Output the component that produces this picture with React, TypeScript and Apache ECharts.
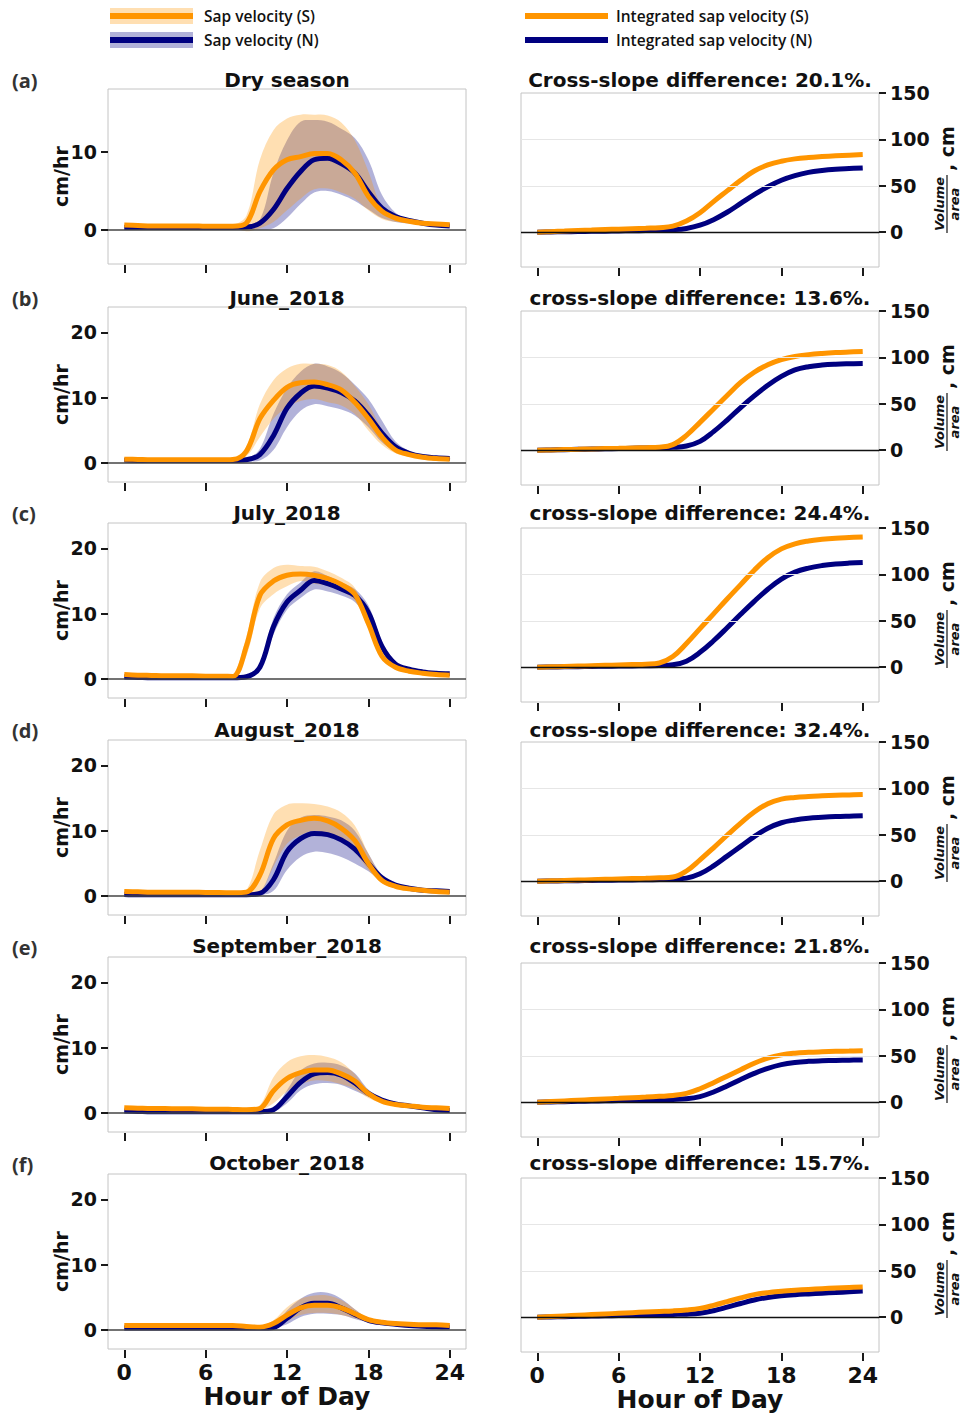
import React, { useEffect, useRef } from "react";
import * as echarts from "echarts";

// ---------------- data ----------------
const HOURS = [0, 1, 2, 3, 4, 5, 6, 7, 8, 9, 10, 11, 12, 13, 14, 15, 16, 17, 18, 19, 20, 21, 22, 23, 24];
const HOUR_TICKS = [0, 6, 12, 18, 24];
const VEL_TICKS_DRY = [0, 10];
const VEL_TICKS = [0, 10, 20];
const VOL_TICKS = [0, 50, 100, 150];
const VOL_GRID = [50, 100];

const PANEL_LETTERS = ["(a)", "(b)", "(c)", "(d)", "(e)", "(f)"];
const LEFT_TITLES = ["Dry season", "June_2018", "July_2018", "August_2018", "September_2018", "October_2018"];
const RIGHT_TITLES = [
  "Cross-slope difference: 20.1%.",
  "cross-slope difference: 13.6%.",
  "cross-slope difference: 24.4%.",
  "cross-slope difference: 32.4%.",
  "cross-slope difference: 21.8%.",
  "cross-slope difference: 15.7%.",
];

// Dry season
const DRY_S = [0.6, 0.55, 0.5, 0.5, 0.5, 0.5, 0.45, 0.45, 0.45, 0.85, 4.9, 7.7, 9.0, 9.4, 9.8, 9.8, 9.0, 7.3, 4.3, 2.4, 1.5, 1.1, 0.85, 0.75, 0.65];
const DRY_S_LO = [0.5, 0.45, 0.4, 0.4, 0.4, 0.4, 0.35, 0.35, 0.3, -0.2, 0.2, 1.0, 2.5, 4.0, 5.2, 5.3, 4.8, 4.0, 2.5, 1.4, 1.0, 0.9, 0.75, 0.65, 0.55];
const DRY_S_HI = [0.7, 0.65, 0.6, 0.6, 0.6, 0.6, 0.55, 0.55, 0.6, 1.8, 9.0, 12.8, 14.3, 14.8, 14.8, 14.7, 13.8, 11.5, 7.5, 3.0, 1.8, 1.3, 1.0, 0.85, 0.75];
const DRY_N = [0.3, 0.3, 0.3, 0.3, 0.3, 0.3, 0.3, 0.3, 0.3, 0.35, 0.85, 2.6, 5.3, 7.5, 9.0, 9.2, 8.5, 7.3, 4.9, 2.8, 1.7, 1.2, 0.85, 0.6, 0.5];
const DRY_N_LO = [0.2, 0.2, 0.2, 0.2, 0.2, 0.2, 0.2, 0.2, 0.2, 0.1, 0.0, 0.2, 1.5, 3.3, 4.8, 5.0, 4.5, 3.7, 2.6, 1.5, 1.0, 0.8, 0.6, 0.45, 0.4];
const DRY_N_HI = [0.4, 0.4, 0.4, 0.4, 0.4, 0.4, 0.4, 0.4, 0.4, 0.5, 1.3, 7.3, 11.5, 13.9, 14.1, 13.9, 13.0, 11.8, 9.0, 4.5, 2.2, 1.3, 1.0, 0.75, 0.6];
const DRY_CUM_S = [0, 0.6, 1.2, 1.8, 2.3, 2.8, 3.3, 3.8, 4.3, 4.9, 6.5, 12, 21, 33, 44.5, 56, 66, 72.5, 76.5, 79, 80.5, 81.5, 82.3, 83, 83.6];
const DRY_CUM_N = [0, 0.2, 0.5, 0.7, 0.9, 1.1, 1.4, 1.6, 1.8, 2.1, 2.6, 4.0, 7.5, 13.5, 21.5, 31, 40.5, 49, 56, 61, 64.5, 66.5, 67.8, 68.6, 69.3];

// June 2018
const JUN_S = [0.6, 0.55, 0.5, 0.5, 0.5, 0.5, 0.5, 0.5, 0.55, 1.8, 6.8, 9.6, 11.6, 12.3, 12.4, 12.0, 11.2, 9.3, 6.8, 4.0, 2.0, 1.3, 0.9, 0.7, 0.6];
const JUN_S_LO = [0.5, 0.45, 0.4, 0.4, 0.4, 0.4, 0.4, 0.4, 0.45, 1.0, 4.0, 6.8, 8.5, 9.5, 9.8, 9.3, 8.8, 7.5, 5.0, 2.8, 1.5, 1.0, 0.7, 0.55, 0.5];
const JUN_S_HI = [0.7, 0.65, 0.6, 0.6, 0.6, 0.6, 0.6, 0.6, 0.65, 2.5, 9.0, 12.7, 14.5, 15.2, 15.2, 15.0, 14.0, 11.8, 9.0, 5.2, 2.8, 1.6, 1.1, 0.9, 0.8];
const JUN_N = [0.45, 0.4, 0.4, 0.4, 0.4, 0.4, 0.4, 0.4, 0.4, 0.5, 1.3, 4.2, 8.4, 10.7, 11.8, 11.5, 10.8, 9.5, 7.3, 4.6, 2.5, 1.5, 1.0, 0.8, 0.7];
const JUN_N_LO = [0.35, 0.3, 0.3, 0.3, 0.3, 0.3, 0.3, 0.3, 0.3, 0.3, 0.4, 2.0, 5.5, 8.0, 9.0, 8.7, 8.2, 7.3, 5.5, 3.2, 1.8, 1.1, 0.8, 0.6, 0.5];
const JUN_N_HI = [0.55, 0.5, 0.5, 0.5, 0.5, 0.5, 0.5, 0.5, 0.5, 0.6, 2.2, 7.5, 11.5, 14.0, 15.2, 14.8, 13.8, 12.0, 9.8, 6.5, 3.3, 1.9, 1.2, 0.9, 0.8];
const JUN_CUM_S = [0, 0.3, 0.7, 1.0, 1.4, 1.7, 2.0, 2.4, 2.7, 3.2, 6, 16, 30, 44.5, 59, 73, 84, 92, 97.5, 101, 103, 104.3, 105.2, 105.8, 106.3];
const JUN_CUM_N = [0, 0.3, 0.6, 0.9, 1.2, 1.5, 1.8, 2.1, 2.4, 2.7, 3.1, 4.5, 9.5, 20, 32.5, 46, 58.5, 70, 79.5, 86.5, 90, 91.8, 92.7, 93.1, 93.3];

// July 2018
const JUL_S = [0.7, 0.6, 0.55, 0.5, 0.5, 0.5, 0.45, 0.45, 0.4, 5.0, 12.8, 15.0, 15.9, 16.1, 15.9, 15.4, 14.5, 13.0, 8.5, 3.5, 1.8, 1.2, 0.9, 0.7, 0.6];
const JUL_S_LO = [0.6, 0.5, 0.45, 0.4, 0.4, 0.4, 0.35, 0.35, 0.3, 3.5, 10.8, 13.0, 14.2, 15.0, 14.6, 14.3, 13.5, 12.0, 7.7, 3.0, 1.6, 1.05, 0.8, 0.6, 0.5];
const JUL_S_HI = [0.8, 0.7, 0.65, 0.6, 0.6, 0.6, 0.55, 0.55, 0.5, 6.5, 14.8, 17.0, 17.5, 17.3, 17.2, 16.5, 15.5, 14.0, 9.3, 4.0, 2.0, 1.35, 1.0, 0.8, 0.7];
const JUL_N = [0.3, 0.25, 0.2, 0.2, 0.2, 0.2, 0.2, 0.2, 0.2, 0.35, 1.8, 8.0, 11.8, 13.6, 15.1, 14.6, 13.8, 12.8, 10.2, 5.0, 2.3, 1.5, 1.1, 0.9, 0.8];
const JUL_N_LO = [0.2, 0.15, 0.1, 0.1, 0.1, 0.1, 0.1, 0.1, 0.1, 0.2, 1.4, 6.8, 10.6, 12.4, 13.7, 13.4, 12.8, 11.8, 9.1, 4.2, 1.9, 1.3, 0.95, 0.8, 0.7];
const JUL_N_HI = [0.4, 0.35, 0.3, 0.3, 0.3, 0.3, 0.3, 0.3, 0.3, 0.5, 2.2, 9.3, 13.0, 14.8, 16.5, 15.8, 14.8, 13.8, 11.3, 5.8, 2.7, 1.7, 1.25, 1.0, 0.9];
const JUL_CUM_S = [0, 0.4, 0.8, 1.2, 1.6, 2.0, 2.4, 2.8, 3.2, 4.5, 11.5, 25.5, 41.5, 57.5, 73.5, 89, 104.5, 118, 127.5, 133, 136, 137.8, 139, 139.7, 140.3];
const JUL_CUM_N = [0, 0.2, 0.4, 0.6, 0.8, 1.0, 1.2, 1.4, 1.6, 1.8, 2.6, 6.5, 16, 28.5, 42.5, 57, 71, 84, 95, 102.5, 106.8, 109.5, 111.2, 112.2, 112.8];

// August 2018
const AUG_S = [0.7, 0.65, 0.6, 0.6, 0.6, 0.6, 0.55, 0.55, 0.5, 0.6, 3.2, 8.8, 10.9, 11.6, 11.9, 11.5, 10.4, 8.5, 5.0, 2.4, 1.5, 1.1, 0.9, 0.7, 0.6];
const AUG_S_LO = [0.6, 0.55, 0.5, 0.5, 0.5, 0.5, 0.45, 0.45, 0.4, 0.4, 0.5, 4.5, 8.0, 9.3, 10.0, 9.5, 8.8, 6.8, 4.0, 2.0, 1.2, 0.9, 0.8, 0.6, 0.5];
const AUG_S_HI = [0.8, 0.75, 0.7, 0.7, 0.7, 0.7, 0.65, 0.65, 0.6, 0.9, 7.0, 12.5, 14.0, 14.2, 14.1, 13.7, 12.8, 10.8, 6.5, 3.0, 1.8, 1.3, 1.0, 0.8, 0.7];
const AUG_N = [0.25, 0.2, 0.2, 0.2, 0.2, 0.2, 0.2, 0.2, 0.2, 0.2, 0.4, 2.5, 6.8, 8.8, 9.6, 9.4, 8.6, 7.2, 5.0, 2.8, 1.7, 1.2, 0.9, 0.8, 0.7];
const AUG_N_LO = [0.15, 0.1, 0.1, 0.1, 0.1, 0.1, 0.1, 0.1, 0.1, 0.1, 0.1, 0.8, 4.0, 6.0, 6.8, 6.6, 6.0, 5.0, 3.8, 2.3, 1.5, 1.0, 0.8, 0.7, 0.6];
const AUG_N_HI = [0.35, 0.3, 0.3, 0.3, 0.3, 0.3, 0.3, 0.3, 0.3, 0.3, 0.6, 5.0, 10.0, 12.0, 12.4, 12.2, 11.6, 10.0, 6.5, 3.2, 1.9, 1.3, 1.0, 0.9, 0.8];
const AUG_CUM_S = [0, 0.4, 0.8, 1.2, 1.6, 2.0, 2.4, 2.8, 3.2, 3.7, 4.5, 11, 23, 36, 49.5, 62.5, 74.5, 83.5, 88.5, 90.3, 91.3, 92, 92.6, 93, 93.3];
const AUG_CUM_N = [0, 0.2, 0.4, 0.6, 0.8, 1.0, 1.2, 1.4, 1.6, 1.8, 2.2, 3.3, 8, 16.5, 27, 37.5, 48, 57, 63, 66, 67.8, 68.8, 69.6, 70.1, 70.5];

// September 2018
const SEP_S = [0.8, 0.75, 0.7, 0.7, 0.65, 0.65, 0.6, 0.6, 0.55, 0.5, 0.7, 3.4, 5.3, 6.2, 6.6, 6.6, 6.0, 4.9, 3.0, 1.8, 1.3, 1.1, 0.9, 0.8, 0.7];
const SEP_S_LO = [0.7, 0.65, 0.6, 0.6, 0.55, 0.55, 0.5, 0.5, 0.45, 0.4, 0.4, 1.5, 3.3, 4.4, 5.0, 4.9, 4.4, 3.7, 2.3, 1.5, 1.1, 0.95, 0.8, 0.7, 0.6];
const SEP_S_HI = [0.9, 0.85, 0.8, 0.8, 0.75, 0.75, 0.7, 0.7, 0.65, 0.6, 1.2, 5.5, 7.8, 8.7, 8.9, 8.6, 7.8, 6.0, 3.4, 2.0, 1.4, 1.2, 1.0, 0.9, 0.8];
const SEP_N = [0.3, 0.25, 0.2, 0.2, 0.2, 0.2, 0.2, 0.2, 0.2, 0.2, 0.2, 0.5, 2.5, 4.7, 6.0, 6.2, 5.8, 4.6, 3.0, 2.0, 1.4, 1.1, 0.8, 0.5, 0.4];
const SEP_N_LO = [0.2, 0.15, 0.1, 0.1, 0.1, 0.1, 0.1, 0.1, 0.1, 0.1, 0.1, 0.2, 1.5, 3.5, 4.4, 4.6, 4.3, 3.4, 2.5, 1.6, 1.2, 0.95, 0.7, 0.4, 0.3];
const SEP_N_HI = [0.4, 0.35, 0.3, 0.3, 0.3, 0.3, 0.3, 0.3, 0.3, 0.3, 0.3, 0.6, 3.5, 6.5, 7.6, 7.7, 7.3, 6.1, 3.6, 2.3, 1.5, 1.2, 0.9, 0.6, 0.5];
const SEP_CUM_S = [0, 0.7, 1.4, 2.1, 2.8, 3.5, 4.2, 4.9, 5.5, 6.3, 7.2, 9.5, 14.5, 21, 28, 35, 42, 47.5, 51, 52.8, 53.7, 54.3, 54.8, 55.1, 55.4];
const SEP_CUM_N = [0, 0.3, 0.6, 0.9, 1.2, 1.5, 1.8, 2.1, 2.4, 2.7, 3.0, 3.6, 6, 11, 17.5, 24.5, 31, 36.5, 40.5, 42.8, 44, 44.6, 45, 45.3, 45.5];

// October 2018
const OCT_S = [0.7, 0.7, 0.7, 0.7, 0.7, 0.7, 0.7, 0.7, 0.7, 0.55, 0.45, 1.0, 2.3, 3.4, 3.8, 3.8, 3.4, 2.5, 1.6, 1.2, 1.0, 0.9, 0.8, 0.8, 0.7];
const OCT_S_LO = [0.6, 0.6, 0.6, 0.6, 0.6, 0.6, 0.6, 0.6, 0.6, 0.45, 0.35, 0.6, 1.4, 2.3, 2.6, 2.6, 2.3, 1.8, 1.2, 1.0, 0.9, 0.8, 0.7, 0.7, 0.6];
const OCT_S_HI = [0.8, 0.8, 0.8, 0.8, 0.8, 0.8, 0.8, 0.8, 0.8, 0.65, 0.55, 1.5, 3.5, 4.8, 5.3, 5.3, 4.6, 3.2, 1.8, 1.35, 1.1, 1.0, 0.9, 0.9, 0.8];
const OCT_N = [0.3, 0.3, 0.3, 0.3, 0.3, 0.3, 0.3, 0.3, 0.3, 0.3, 0.3, 0.4, 1.8, 3.4, 4.1, 4.1, 3.4, 2.4, 1.5, 1.1, 0.9, 0.7, 0.6, 0.5, 0.45];
const OCT_N_LO = [0.2, 0.2, 0.2, 0.2, 0.2, 0.2, 0.2, 0.2, 0.2, 0.2, 0.2, 0.25, 0.9, 2.0, 2.5, 2.5, 2.3, 1.7, 1.2, 0.9, 0.8, 0.6, 0.5, 0.4, 0.35];
const OCT_N_HI = [0.4, 0.4, 0.4, 0.4, 0.4, 0.4, 0.4, 0.4, 0.4, 0.4, 0.4, 0.6, 3.0, 4.8, 5.7, 5.7, 4.8, 3.2, 1.8, 1.3, 1.0, 0.8, 0.7, 0.6, 0.55];
const OCT_CUM_S = [0, 0.7, 1.4, 2.1, 2.8, 3.5, 4.2, 4.9, 5.6, 6.2, 6.8, 7.8, 9.5, 12.8, 16.8, 20.8, 24.3, 26.5, 27.9, 29, 29.9, 30.7, 31.4, 32, 32.5];
const OCT_CUM_N = [0, 0.3, 0.6, 0.9, 1.2, 1.5, 1.8, 2.1, 2.4, 2.7, 3.0, 3.3, 4.3, 7, 10.8, 14.8, 18.5, 21.3, 23, 24.2, 25.1, 25.9, 26.6, 27.4, 28.1];

const LEGEND_LABELS = ["Sap velocity (S)", "Sap velocity (N)", "Integrated sap velocity (S)", "Integrated sap velocity (N)"];

// ---------------- styling / layout ----------------
const S_COLOR = "#FF9500";
const N_COLOR = "#000080";
const S_BAND = "rgba(255,149,0,0.3)";
const N_BAND = "rgba(0,0,128,0.3)";
const FONT = '"DejaVu Sans", sans-serif';
const SMOOTH = 0.35;

const PANELS = [
  { s: DRY_S, sLo: DRY_S_LO, sHi: DRY_S_HI, n: DRY_N, nLo: DRY_N_LO, nHi: DRY_N_HI, cs: DRY_CUM_S, cn: DRY_CUM_N, yMin: -4.4, yMax: 18.1, ticks: VEL_TICKS_DRY },
  { s: JUN_S, sLo: JUN_S_LO, sHi: JUN_S_HI, n: JUN_N, nLo: JUN_N_LO, nHi: JUN_N_HI, cs: JUN_CUM_S, cn: JUN_CUM_N, yMin: -2.9, yMax: 23.9, ticks: VEL_TICKS },
  { s: JUL_S, sLo: JUL_S_LO, sHi: JUL_S_HI, n: JUL_N, nLo: JUL_N_LO, nHi: JUL_N_HI, cs: JUL_CUM_S, cn: JUL_CUM_N, yMin: -2.9, yMax: 23.9, ticks: VEL_TICKS },
  { s: AUG_S, sLo: AUG_S_LO, sHi: AUG_S_HI, n: AUG_N, nLo: AUG_N_LO, nHi: AUG_N_HI, cs: AUG_CUM_S, cn: AUG_CUM_N, yMin: -2.9, yMax: 23.9, ticks: VEL_TICKS },
  { s: SEP_S, sLo: SEP_S_LO, sHi: SEP_S_HI, n: SEP_N, nLo: SEP_N_LO, nHi: SEP_N_HI, cs: SEP_CUM_S, cn: SEP_CUM_N, yMin: -2.9, yMax: 23.9, ticks: VEL_TICKS },
  { s: OCT_S, sLo: OCT_S_LO, sHi: OCT_S_HI, n: OCT_N, nLo: OCT_N_LO, nHi: OCT_N_HI, cs: OCT_CUM_S, cn: OCT_CUM_N, yMin: -2.9, yMax: 23.9, ticks: VEL_TICKS },
];

const LEFT_X = 108;
const RIGHT_X = 521;
const BOX_W = 358;
const LEFT_TOPS = [89, 307, 523, 740, 957, 1174];
const RIGHT_TOPS = [93, 311, 528, 742, 963, 1178];
const LEFT_H = 175;
const RIGHT_H = 174;
const TITLE_Y = [79.5, 297.5, 512.5, 729.5, 946, 1163];

const pairs = (ys: number[]) => HOURS.map((h, k) => [h, ys[k]]);
const bandRows = (lo: number[], hi: number[]) => HOURS.map((h, k) => [h, lo[k], hi[k]]);

function bandSeries(gi: number, lo: number[], hi: number[], color: string, extra: any = {}) {
  return {
    type: "custom",
    xAxisIndex: gi,
    yAxisIndex: gi,
    silent: true,
    animation: false,
    data: bandRows(lo, hi),
    encode: { x: 0, y: [1, 2] },
    renderItem: (params: any, api: any) => {
      if (params.dataIndexInside !== 0) return { type: "group", children: [] };
      const n = params.dataInsideLength;
      const top: number[][] = [];
      const bot: number[][] = [];
      for (let k = 0; k < n; k++) {
        top.push(api.coord([api.value(0, k), api.value(2, k)]));
        bot.push(api.coord([api.value(0, k), api.value(1, k)]));
      }
      return {
        type: "polygon",
        shape: { points: top.concat(bot.reverse()), smooth: SMOOTH },
        style: { fill: color, stroke: "none" },
      };
    },
    ...extra,
  };
}

function buildOption() {
  const grid: any[] = [];
  const xAxis: any[] = [];
  const yAxis: any[] = [];
  const series: any[] = [];
  const graphic: any[] = [];

  PANELS.forEach((p, i) => {
    const last = i === PANELS.length - 1;
    const gl = 2 * i;
    const gr = 2 * i + 1;
    grid.push({ left: LEFT_X, top: LEFT_TOPS[i], width: BOX_W, height: LEFT_H, show: true, borderColor: "#c4c4c4", borderWidth: 1, backgroundColor: "transparent", outerBoundsMode: "none" });
    grid.push({ left: RIGHT_X, top: RIGHT_TOPS[i], width: BOX_W, height: RIGHT_H, show: true, borderColor: "#c4c4c4", borderWidth: 1, backgroundColor: "transparent", outerBoundsMode: "none" });

    [gl, gr].forEach((g) => {
      xAxis.push({
        type: "value",
        gridIndex: g,
        min: -1.2,
        max: 25.2,
        offset: 1,
        axisLine: { show: false, onZero: false },
        splitLine: { show: false },
        axisTick: { show: true, customValues: HOUR_TICKS, length: 8, lineStyle: { color: "#1a1a1a", width: 2 } },
        axisLabel: { show: last, customValues: HOUR_TICKS, margin: 11, fontSize: 22, fontWeight: "bold", fontFamily: FONT, color: "#111" },
        name: last ? "Hour of Day" : "",
        nameLocation: "middle",
        nameGap: 34,
        nameMoveOverlap: false,
        nameTextStyle: { fontSize: 25, fontWeight: "bold", fontFamily: FONT, color: "#111" },
      });
    });

    yAxis.push({
      type: "value",
      gridIndex: gl,
      min: p.yMin,
      max: p.yMax,
      axisLine: { show: false, onZero: false },
      splitLine: { show: false },
      axisTick: { show: true, customValues: p.ticks, length: 7, lineStyle: { color: "#1a1a1a", width: 2 } },
      axisLabel: { customValues: p.ticks, margin: 11, fontSize: 19, fontWeight: "bold", fontFamily: FONT, color: "#111" },
      name: "cm/hr",
      nameLocation: "middle",
      nameGap: 38,
      nameRotate: 90,
      nameMoveOverlap: false,
      nameTextStyle: { fontSize: 19, fontWeight: "bold", fontFamily: FONT, color: "#111" },
    });
    yAxis.push({
      type: "value",
      gridIndex: gr,
      position: "right",
      min: -37.5,
      max: 150,
      axisLine: { show: false, onZero: false },
      splitLine: { show: false },
      axisTick: { show: true, customValues: VOL_TICKS, length: 7, lineStyle: { color: "#1a1a1a", width: 2 } },
      axisLabel: { customValues: VOL_TICKS, margin: 11, fontSize: 19, fontWeight: "bold", fontFamily: FONT, color: "#111" },
    });

    const zeroLine = {
      markLine: { silent: true, symbol: ["none", "none"], label: { show: false }, animation: false, lineStyle: { color: "#444", width: 1.5, type: "solid" }, data: [{ yAxis: 0 }] },
    };
    series.push(bandSeries(gl, p.nLo, p.nHi, N_BAND, { name: "N band", ...zeroLine }));
    series.push(bandSeries(gl, p.sLo, p.sHi, S_BAND, { name: "S band" }));

    const common = { xAxisIndex: gl, yAxisIndex: gl, type: "line", symbol: "none", smooth: SMOOTH, silent: true, animation: false };
    series.push({ ...common, name: "Sap velocity (N)", data: pairs(p.n), lineStyle: { color: N_COLOR, width: 5, cap: "butt" } });
    series.push({ ...common, name: "Sap velocity (S)", data: pairs(p.s), lineStyle: { color: S_COLOR, width: 5, cap: "butt" } });

    const rcommon = { xAxisIndex: gr, yAxisIndex: gr, type: "line", symbol: "none", smooth: 0.4, silent: true, animation: false };
    series.push({
      ...rcommon, name: "Integrated sap velocity (N)", data: pairs(p.cn), lineStyle: { color: N_COLOR, width: 5, cap: "butt" },
      markLine: {
        silent: true, symbol: ["none", "none"], label: { show: false }, animation: false,
        data: [
          ...VOL_GRID.map((v) => ({ yAxis: v, lineStyle: { color: "#e6e6e6", width: 1, type: "solid" } })),
          { yAxis: 0, lineStyle: { color: "#111", width: 1.3, type: "solid" } },
        ],
      },
    });
    series.push({ ...rcommon, name: "Integrated sap velocity (S)", data: pairs(p.cs), lineStyle: { color: S_COLOR, width: 5, cap: "butt" } });

    // titles and panel letters
    graphic.push({ type: "text", x: LEFT_X + BOX_W / 2, y: TITLE_Y[i], style: { text: LEFT_TITLES[i], align: "center", verticalAlign: "middle", fontSize: 20, fontWeight: "bold", fontFamily: FONT, fill: "#111" } });
    graphic.push({ type: "text", x: RIGHT_X + BOX_W / 2, y: TITLE_Y[i], style: { text: RIGHT_TITLES[i], align: "center", verticalAlign: "middle", fontSize: 20, fontWeight: "bold", fontFamily: FONT, fill: "#111" } });
    graphic.push({ type: "text", x: 12, y: TITLE_Y[i] + 1, style: { text: PANEL_LETTERS[i], align: "left", verticalAlign: "middle", fontSize: 20, fontWeight: "bold", fontFamily: '"Open Sans", sans-serif', fill: "#333" } });

    // right axis label: Volume/area , cm (rotated)
    graphic.push({
      type: "group",
      x: 947,
      y: RIGHT_TOPS[i] + 87,
      rotation: Math.PI / 2,
      children: [
        { type: "text", x: -24, y: -1, style: { text: "Volume", align: "center", verticalAlign: "bottom", fontSize: 13, fontWeight: "bold", fontStyle: "italic", fontFamily: FONT, fill: "#111" } },
        { type: "line", shape: { x1: -53, y1: 0, x2: 5, y2: 0 }, style: { stroke: "#111", lineWidth: 1.2 } },
        { type: "text", x: -24, y: 1, style: { text: "area", align: "center", verticalAlign: "top", fontSize: 13, fontWeight: "bold", fontStyle: "italic", fontFamily: FONT, fill: "#111" } },
        { type: "text", x: 9, y: 0, style: { text: ", cm", align: "left", verticalAlign: "middle", fontSize: 19, fontWeight: "bold", fontFamily: FONT, fill: "#111" } },
      ],
    });
  });

  // legend
  const legendFont = { fontSize: 15.5, fontWeight: 600, fontFamily: '"Open Sans", sans-serif', fill: "#111" };
  const rows = [
    { y: 16, color: S_COLOR, band: S_BAND },
    { y: 40, color: N_COLOR, band: N_BAND },
  ];
  rows.forEach((r, k) => {
    graphic.push({ type: "rect", shape: { x: 110, y: r.y - 8, width: 83, height: 16 }, style: { fill: r.band } });
    graphic.push({ type: "rect", shape: { x: 110, y: r.y - 3, width: 83, height: 6 }, style: { fill: r.color } });
    graphic.push({ type: "text", x: 204, y: r.y, style: { text: LEGEND_LABELS[k], align: "left", verticalAlign: "middle", ...legendFont } });
    graphic.push({ type: "rect", shape: { x: 525, y: r.y - 3, width: 83, height: 6 }, style: { fill: r.color } });
    graphic.push({ type: "text", x: 616, y: r.y, style: { text: LEGEND_LABELS[k + 2], align: "left", verticalAlign: "middle", ...legendFont } });
  });

  return {
    animation: false,
    backgroundColor: "#ffffff",
    grid,
    xAxis,
    yAxis,
    series,
    graphic,
  };
}

export default function App() {
  const ref = useRef<HTMLDivElement>(null);
  useEffect(() => {
    if (!ref.current) return;
    const chart = echarts.init(ref.current, undefined, { renderer: "svg" });
    chart.setOption(buildOption() as any);
    return () => chart.dispose();
  }, []);
  return <div ref={ref} style={{ position: "absolute", left: 0, top: 0, width: 965, height: 1416 }} />;
}
